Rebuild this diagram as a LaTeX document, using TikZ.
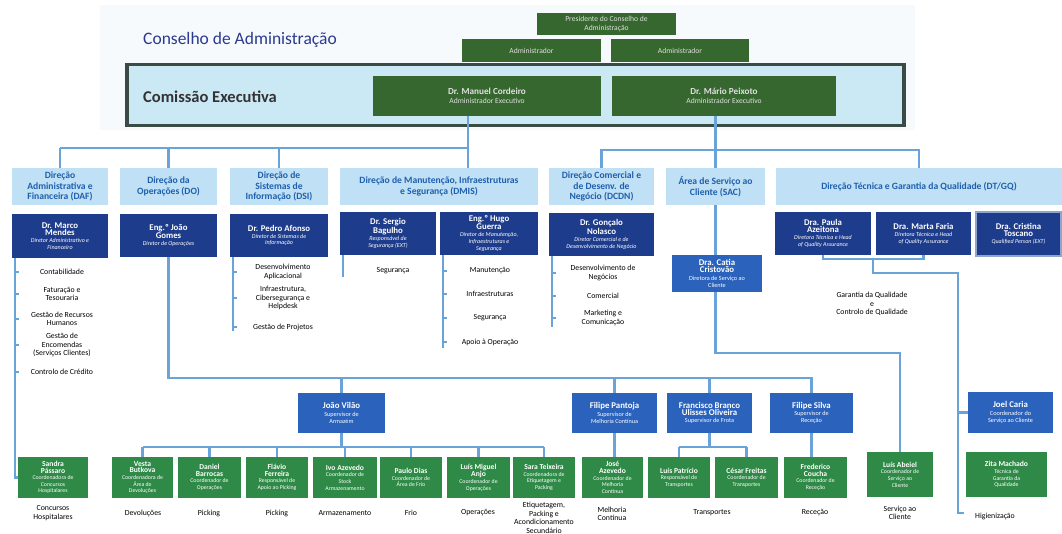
\documentclass[tikz,border=0pt]{standalone}
\usepackage{fontspec}
\usetikzlibrary{calc}
\setmainfont{Carlito}
\definecolor{execg}{HTML}{36672F}
\definecolor{hdrb}{HTML}{BFE0F5}
\definecolor{hdrt}{HTML}{1F5FAE}
\definecolor{navyb}{HTML}{1E3C8C}
\definecolor{midb}{HTML}{2A62BC}
\definecolor{botg}{HTML}{2F8A47}
\definecolor{conn}{HTML}{6AA3D8}
\definecolor{comfill}{HTML}{CBE8F5}
\definecolor{comb}{HTML}{3A4A45}
\definecolor{bgpale}{HTML}{F6FAFD}
\definecolor{titlec}{HTML}{2B3990}
\definecolor{comtext}{HTML}{333333}
\definecolor{crisb}{HTML}{8FA6CC}
\newcommand\nm[1]{{\upshape\bfseries\fontsize{8.8}{9.6}\selectfont #1}}
\newcommand\gnm[1]{{\bfseries\fontsize{7.6}{8.4}\selectfont #1}}
\newcommand\bx[7]{\node[#2,minimum width={(#5)-(#3)},minimum height={(#6)-(#4)}] (#1) at ({((#3)+(#5))/2},{((#4)+(#6))/2}) {#7};}
\tikzset{
  box/.style={inner sep=0pt,outer sep=0pt,align=center},
  exec/.style={box,fill=execg,text=white!88!black,font=\fontsize{7.6}{9}\selectfont},
  hdr/.style={box,fill=hdrb,text=hdrt,font=\bfseries\fontsize{9.6}{10.8}\selectfont},
  navy/.style={box,fill=navyb,text=white,font=\itshape\fontsize{6}{6.9}\selectfont},
  midbox/.style={box,fill=midb,text=white,font=\fontsize{6.2}{7.2}\selectfont},
  grn/.style={box,fill=botg,text=white,font=\fontsize{5.8}{6.6}\selectfont},
  lbl/.style={inner sep=0pt,align=center,text=black,font=\fontsize{7.8}{8.6}\selectfont},
  con/.style={draw=conn,line width=2.6pt},
  tick/.style={draw=conn,line width=1.6pt}
}
\begin{document}
\begin{tikzpicture}[x=1pt,y=-1pt]
\useasboundingbox (0,0) rectangle (1062,534);
\fill[white] (0,0) rectangle (1062,534);
\fill[bgpale] (100,5) rectangle (915,130);
% ---- board
\bx{pres}{exec}{537}{13}{676}{35}{Presidente do Conselho de\\Administração}
\bx{adm1}{exec}{462}{39}{601}{62}{Administrador}
\bx{adm2}{exec}{611}{39}{749}{62}{Administrador}
\node[anchor=west,inner sep=0pt,text=titlec,font=\fontsize{17.5}{20}\selectfont] (ttl) at (143,40) {Conselho de Administração};
\node[draw=comb,line width=3.2pt,fill=comfill,minimum width=777,minimum height=61,inner sep=0pt] (com) at (515.5,95) {};
\node[anchor=west,inner sep=0pt,text=comtext,font=\bfseries\fontsize{16.5}{19}\selectfont] (comt) at (143,97) {Comissão Executiva};
\bx{man}{exec}{373}{76}{601}{116}{{\bfseries\fontsize{9.2}{11}\selectfont Dr. Manuel Cordeiro}\\Administrador Executivo}
\bx{mar}{exec}{612}{76}{836}{116}{{\bfseries\fontsize{9.2}{11}\selectfont Dr. Mário Peixoto}\\Administrador Executivo}
% ---- directorate headers
\bx{daf}{hdr}{12}{168}{108}{205}{Direção\\Administrativa e\\Financeira (DAF)}
\bx{do}{hdr}{120}{168}{217}{205}{Direção da\\Operações (DO)}
\bx{dsi}{hdr}{230}{168}{328}{205}{Direção de\\Sistemas de\\Informação (DSI)}
\bx{dmis}{hdr}{340}{168}{538}{205}{Direção de Manutenção, Infraestruturas\\e Segurança (DMIS)}
\bx{dcdn}{hdr}{549}{168}{654}{205}{Direção Comercial e\\de Desenv. de\\Negócio (DCDN)}
\bx{sac}{hdr}{666}{168}{765}{205}{Área de Serviço ao\\Cliente (SAC)}
\bx{dtgq}{hdr}{776}{168}{1062}{205}{Direção Técnica e Garantia da Qualidade (DT/GQ)}
% ---- directors
\bx{marco}{navy}{12}{214}{108}{258}{\nm{Dr. Marco}\\\nm{Mendes}\\Diretor Administrativo e\\Financeiro}
\bx{jg}{navy}{120}{214}{217}{257}{\nm{Eng.º João}\\\nm{Gomes}\\Diretor de Operações}
\bx{pedro}{navy}{230}{214}{328}{257}{\nm{Dr. Pedro Afonso}\\Diretor de Sistemas de\\Informação}
\bx{sb}{navy}{340}{212}{436}{255}{\nm{Dr. Sergio}\\\nm{Bagulho}\\Responsável de\\Segurança (EXT)}
\bx{hg}{navy}{440}{212}{538}{255}{\nm{Eng.º Hugo}\\\nm{Guerra}\\Diretor de Manutenção,\\Infraestruturas e\\Segurança}
\bx{gn}{navy}{549}{213}{654}{256}{\nm{Dr. Gonçalo}\\\nm{Nolasco}\\Diretor Comercial e de\\Desenvolvimento de Negócio}
\bx{paula}{navy}{775}{212}{871}{255}{\nm{Dra. Paula}\\\nm{Azeitona}\\Diretora Técnica e Head\\of Quality Assurance}
\bx{marta}{navy}{876}{212}{971}{255}{\nm{Dra. Marta Faria}\\Diretora Técnica e Head\\of Quality Assurance}
\bx{cris}{navy,draw=crisb,line width=1.5pt}{976}{212}{1061}{256}{\nm{Dra. Cristina}\\\nm{Toscano}\\Qualified Person (EXT)}
\bx{cat}{midbox}{672}{255}{762}{292}{\nm{Dra. Catia}\\\nm{Cristovão}\\Diretora de Serviço ao\\Cliente}
% ---- supervisors
\bx{jv}{midbox}{298}{393}{385}{433}{\nm{João Vilão}\\Supervisor de\\Armazém}
\bx{pan}{midbox}{572}{393}{657}{433}{\nm{Filipe Pantoja}\\Supervisor de\\Melhoria Contínua}
\bx{fb}{midbox}{667}{393}{752}{433}{\nm{Francisco Branco}\\\nm{Ulisses Oliveira}\\Supervisor de Frota}
\bx{fs}{midbox}{770}{393}{853}{433}{\nm{Filipe Silva}\\Supervisor de\\Receção}
\bx{joel}{midbox}{968}{392}{1053}{433}{\nm{Joel Caria}\\Coordenador do\\Serviço ao Cliente}
% ---- coordinators
\bx{san}{grn}{18}{457}{88}{498}{\gnm{Sandra}\\\gnm{Pássaro}\\Coordenadora de\\Concursos\\Hospitalares}
\bx{ve}{grn}{112}{457}{173}{498}{\gnm{Vesta}\\\gnm{Butkova}\\Coordenadora de\\Área de\\Devoluções}
\bx{db}{grn}{178}{457}{241}{498}{\gnm{Daniel}\\\gnm{Barrocas}\\Coordenador de\\Operações}
\bx{ff}{grn}{246}{457}{308}{498}{\gnm{Flávio}\\\gnm{Ferreira}\\Responsável de\\Apoio ao Picking}
\bx{ia}{grn}{313}{457}{377}{498}{\gnm{Ivo Azevedo}\\Coordenador de\\Stock\\Armazenamento}
\bx{pd}{grn}{380}{457}{442}{498}{\gnm{Paulo Dias}\\Coordenador de\\Área de Frio}
\bx{lm}{grn}{447}{457}{510}{498}{\gnm{Luís Miguel}\\\gnm{Anjo}\\Coordenador de\\Operações}
\bx{st}{grn}{513}{457}{575}{498}{\gnm{Sara Teixeira}\\Coordenadora de\\Etiquetagem e\\Packing}
\bx{ja}{grn}{582}{457}{643}{498}{\gnm{José}\\\gnm{Azevedo}\\Coordenador de\\Melhoria\\Contínua}
\bx{lp}{grn}{648}{457}{710}{498}{\gnm{Luís Patrício}\\Responsável de\\Transportes}
\bx{cf}{grn}{715}{457}{778}{498}{\gnm{César Freitas}\\Coordenador de\\Transportes}
\bx{fc}{grn}{784}{457}{847}{498}{\gnm{Frederico}\\\gnm{Coucha}\\Coordenador de\\Receção}
\bx{la}{grn}{867}{452}{933}{497}{\gnm{Luís Abeiel}\\Coordenador de\\Serviço ao\\Cliente}
\bx{zm}{grn}{966}{452}{1047}{497}{\gnm{Zita Machado}\\Técnica de\\Garantia da\\Qualidade}
% ---- bottom labels
\node[lbl] (l-san) at (53,513) {Concursos\\Hospitalares};
\node[lbl] (l-ve) at (143,513) {Devoluções};
\node[lbl] (l-db) at (209,513) {Picking};
\node[lbl] (l-ff) at (277,513) {Picking};
\node[lbl] (l-ia) at (345,513) {Armazenamento};
\node[lbl] (l-pd) at (411,513) {Frio};
\node[lbl] (l-lm) at (478,513) {Operações};
\node[lbl,anchor=north] (l-st) at (544,502) {Etiquetagem,\\Packing e\\Acondicionamento\\Secundário};
\node[lbl] (l-ja) at (612,514) {Melhoria\\Contínua};
\node[lbl] (l-lp) at (712,513) {Transportes};
\node[lbl] (l-fc) at (815,513) {Receção};
\node[lbl] (l-la) at (900,513) {Serviço ao\\Cliente};
\node[lbl] (l-zm) at (995,516) {Higienização};
% ---- lists
\node[lbl] (d1) at (62,272) {Contabilidade};
\node[lbl] (d2) at (62,294) {Faturação e\\Tesouraria};
\node[lbl] (d3) at (62,319) {Gestão de Recursos\\Humanos};
\node[lbl] (d4) at (62,345) {Gestão de\\Encomendas\\(Serviços Clientes)};
\node[lbl] (d5) at (62,372) {Controlo de Crédito};
\node[lbl] (s1) at (283,272) {Desenvolvimento\\Aplicacional};
\node[lbl] (s2) at (283,298) {Infraestrutura,\\Cibersegurança e\\Helpdesk};
\node[lbl] (s3) at (283,327) {Gestão de Projetos};
\node[lbl] (g1) at (393,271) {Segurança};
\node[lbl] (h1) at (490,271) {Manutenção};
\node[lbl] (h2) at (490,294) {Infraestruturas};
\node[lbl] (h3) at (490,318) {Segurança};
\node[lbl] (h4) at (490,342) {Apoio à Operação};
\node[lbl] (c1) at (603,273) {Desenvolvimento de\\Negócios};
\node[lbl] (c2) at (603,296) {Comercial};
\node[lbl] (c3) at (603,318) {Marketing e\\Comunicação};
\node[lbl] (q) at (872,304) {Garantia da Qualidade\\e\\Controlo de Qualidade};
% ---- connectors: board to directorates
\coordinate (busL) at (0,148);
\coordinate (xL) at (468,0);
\coordinate (busR) at (0,150);
\draw[con] (man.south -| xL) -- (dmis.north -| xL);
\draw[con] (daf.north |- busL) -- (busL -| xL);
\draw[con] (daf.north |- busL) -- (daf.north);
\draw[con] (do.north |- busL) -- (do.north);
\draw[con] (dsi.north |- busL) -- (dsi.north);
\draw[con] (mar.south -| sac.north) -- (sac.north);
\draw[con] (dcdn.north) -- (dcdn.north |- busR) -- (dtgq.north |- busR) -- (dtgq.north);
% ---- DAF
\coordinate (xD) at (15,0);
\draw[con] (marco.south -| xD) |- (san.west);
\foreach \n in {d1,d2,d3,d4,d5} \draw[tick] (\n -| xD) -- ++(4,0);
% ---- DO
\coordinate (busO) at (0,378);
\draw[con] (jg.south) -- (jg.south |- busO) -- (fs.north |- busO) -- (fs.north);
\foreach \n in {jv,pan,fb} \draw[con] (\n.north |- busO) -- (\n.north);
% ---- DSI, DMIS, DCDN side lines
\coordinate (xS) at (233,0);
\draw[con] (pedro.south -| xS) -- (s3.south -| xS);
\foreach \n in {s1,s2,s3} \draw[tick] (\n -| xS) -- ++(4,0);
\coordinate (xG) at (343,0);
\draw[con] (sb.south -| xG) -- ($(g1.south -| xG)+(0,3)$);
\coordinate (xH) at (443,0);
\draw[con] (hg.south -| xH) -- ($(h4.south -| xH)+(0,2)$);
\foreach \n in {h1,h2,h3,h4} \draw[tick] (\n -| xH) -- ++(4,0);
\coordinate (xC) at (552,0);
\draw[con] (gn.south -| xC) -- ($(c3.south -| xC)+(0,1)$);
\foreach \n in {c1,c2,c3} \draw[tick] (\n -| xC) -- ++(4,0);
% ---- SAC
\coordinate (busS) at (0,353);
\draw[con] (sac.south) -- (sac.south |- cat.north);
\draw[con] (cat.south -| sac.south) |- (la.north |- busS) -- (la.north);
% ---- DT/GQ
\coordinate (busQ) at (0,259);
\coordinate (qa) at (873,273);
\coordinate (xQ) at (958,0);
\coordinate (qe) at (964,513);
\draw[con] (paula.south) |- (marta.south |- busQ) -- (marta.south);
\draw[con] (qa |- busQ) -- (qa) -- (qa -| xQ) -- (qe -| xQ) -- (qe);
\draw[con] (joel.west -| xQ) -- (joel.west);
% ---- supervisors to coordinators
\coordinate (busV) at (0,447);
\draw[con] (jv.south) -- (jv.south |- busV);
\draw[con] (ve.north |- busV) -- (st.north |- busV);
\foreach \n in {ve,db,ff,ia,pd,lm,st} \draw[con] (\n.north |- busV) -- (\n.north);
\draw[con] (pan.south) -- (pan.south |- ja.north);
\draw[con] (fb.south) -- (fb.south |- busV);
\draw[con] (lp.north |- busV) -- (cf.north |- busV);
\draw[con] (lp.north |- busV) -- (lp.north);
\draw[con] (cf.north |- busV) -- (cf.north);
\draw[con] (fs.south) -- (fs.south |- fc.north);
\end{tikzpicture}
\end{document}
